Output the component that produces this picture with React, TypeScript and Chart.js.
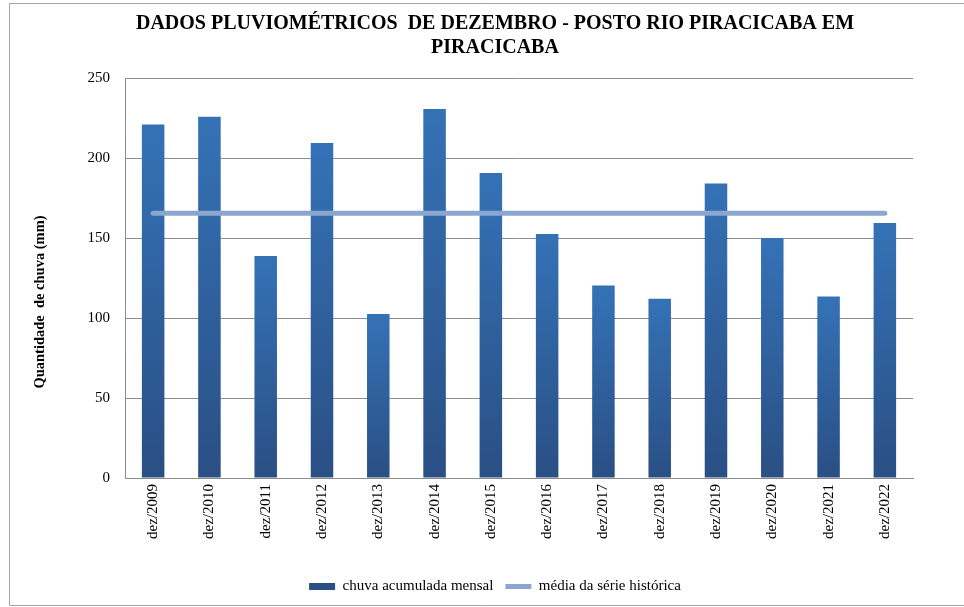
import React, { useEffect, useRef } from "react";
import { Chart, registerables } from "chart.js";

Chart.register(...registerables);

const categories = [
  "dez/2009", "dez/2010", "dez/2011", "dez/2012", "dez/2013", "dez/2014", "dez/2015",
  "dez/2016", "dez/2017", "dez/2018", "dez/2019", "dez/2020", "dez/2021", "dez/2022",
];
const chuvaMensal = [221, 225.8, 138.8, 209.4, 102.5, 230.6, 190.6, 152.5, 120.3, 112.1, 184, 150, 113.5, 159.3];
const mediaSerie = [165.5, 165.5, 165.5, 165.5, 165.5, 165.5, 165.5, 165.5, 165.5, 165.5, 165.5, 165.5, 165.5, 165.5];
const yMin = 0;
const yMax = 250;
const yStep = 50;

const titleLines = ["DADOS PLUVIOMÉTRICOS  DE DEZEMBRO - POSTO RIO PIRACICABA EM", "PIRACICABA"];
const yTitle = "Quantidade  de chuva (mm)";
const barLabel = "chuva acumulada mensal";
const lineLabel = "média da série histórica";

const FONT = "'Liberation Serif', 'Times New Roman', serif";

const framePlugin = {
  id: "frame",
  beforeDraw(chart: any) {
    const ctx = chart.ctx;
    ctx.save();
    ctx.fillStyle = "#ffffff";
    ctx.fillRect(0, 0, chart.width, chart.height);
    ctx.strokeStyle = "#a3a3a3";
    ctx.lineWidth = 1;
    ctx.beginPath();
    ctx.moveTo(chart.width, 3.5);
    ctx.lineTo(9.5, 3.5);
    ctx.lineTo(9.5, 605.5);
    ctx.lineTo(chart.width, 605.5);
    ctx.stroke();
    ctx.restore();
  },
};

const yTitlePlugin = {
  id: "ytitle",
  afterDraw(chart: any) {
    const ctx = chart.ctx;
    ctx.save();
    ctx.translate(40, 302);
    ctx.rotate(-Math.PI / 2);
    ctx.font = `bold 14.5px ${FONT}`;
    ctx.fillStyle = "#000000";
    ctx.textAlign = "center";
    ctx.textBaseline = "middle";
    ctx.fillText(yTitle, 0, 0);
    ctx.restore();
  },
};

export default function App() {
  const ref = useRef<HTMLCanvasElement | null>(null);

  useEffect(() => {
    if (!ref.current) return;
    const chart = new Chart(ref.current, {
      type: "bar",
      data: {
        labels: categories,
        datasets: [
          {
            type: "bar",
            label: barLabel,
            data: chuvaMensal,
            order: 1,
            pointStyle: "rect",
            borderWidth: 0,
            barPercentage: 0.4,
            categoryPercentage: 1,
            backgroundColor: (c: any) => {
              const ch = c.chart;
              const area = ch.chartArea;
              if (!area || c.dataIndex === undefined || !ch.scales.y) return "#2F62A0";
              const ys = ch.scales.y;
              const top = ys.getPixelForValue(chuvaMensal[c.dataIndex]);
              const bottom = ys.getPixelForValue(0);
              if (!isFinite(top) || !isFinite(bottom) || top === bottom) return "#2F62A0";
              const g = ch.ctx.createLinearGradient(0, top, 0, bottom);
              g.addColorStop(0, "#3472B6");
              g.addColorStop(1, "#2A4F84");
              return g;
            },
          } as any,
          {
            type: "line",
            label: lineLabel,
            data: mediaSerie,
            order: 0,
            pointStyle: "line",
            borderColor: "#8CA7CF",
            backgroundColor: "#8CA7CF",
            borderWidth: 5,
            borderCapStyle: "round",
            pointRadius: 0,
            pointHoverRadius: 0,
            fill: false,
            tension: 0,
          } as any,
        ],
      },
      options: {
        responsive: false,
        animation: false,
        devicePixelRatio: 1,
        layout: { padding: { left: 77, right: 51, top: 0, bottom: 3 } },
        plugins: {
          tooltip: { enabled: false },
          title: {
            display: true,
            text: titleLines,
            color: "#000000",
            font: { family: FONT, size: 20, weight: "bold", lineHeight: "24px" },
            padding: { top: 12, bottom: 18 },
          },
          legend: {
            display: true,
            position: "bottom",
            labels: {
              usePointStyle: true,
              pointStyleWidth: 26,
              boxHeight: 7,
              padding: 12,
              color: "#000000",
              font: { family: FONT, size: 15 },
              sort: (a: any, b: any) => a.datasetIndex - b.datasetIndex,
            },
          },
        },
        scales: {
          x: {
            offset: true,
            afterFit: (s: any) => {
              s.height = 89;
            },
            grid: { display: false, drawTicks: false },
            border: { display: true, color: "#8c8c8c", width: 1 },
            ticks: {
              autoSkip: false,
              maxRotation: 90,
              minRotation: 90,
              padding: 6,
              color: "#000000",
              font: { family: FONT, size: 15 },
            },
          },
          y: {
            min: yMin,
            max: yMax,
            afterFit: (s: any) => {
              s.width = 48;
            },
            grid: { color: "#8c8c8c", drawTicks: false, lineWidth: 1 },
            border: { display: true, color: "#8c8c8c", width: 1 },
            ticks: {
              stepSize: yStep,
              padding: 15,
              color: "#000000",
              font: { family: FONT, size: 15 },
            },
          },
        },
      },
      plugins: [framePlugin, yTitlePlugin],
    });
    return () => chart.destroy();
  }, []);

  return (
    <div style={{ position: "fixed", left: 0, top: 0, width: 964, height: 607, background: "#fff" }}>
      <canvas ref={ref} width={964} height={607} style={{ display: "block", width: 964, height: 607 }} />
    </div>
  );
}
